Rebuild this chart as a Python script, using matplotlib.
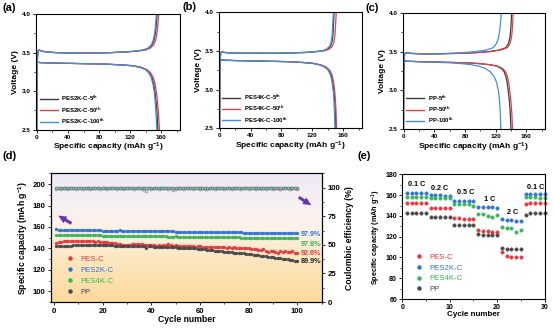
import numpy as np
import matplotlib
matplotlib.use('Agg')
import matplotlib.pyplot as plt
from matplotlib.colors import LinearSegmentedColormap
from matplotlib.ticker import MultipleLocator
from matplotlib.lines import Line2D

plt.rcParams['font.family'] = ['Liberation Sans', 'DejaVu Sans']
plt.rcParams['font.weight'] = 'bold'
plt.rcParams['axes.labelweight'] = 'bold'
plt.rcParams['mathtext.fontset'] = 'custom'
plt.rcParams['mathtext.rm'] = 'Liberation Sans:bold'
plt.rcParams['mathtext.default'] = 'rm'
plt.rcParams['axes.linewidth'] = 0.8

# ---- charge / discharge profiles (capacity in mAh/g, voltage in V) ----
# (a) PES2K-C
chg_v_a = [2.50, 3.10, 3.42, 3.52, 3.535, 3.52, 3.51, 3.50, 3.495, 3.495,
           3.50, 3.51, 3.52, 3.535, 3.56, 3.60, 3.66, 3.75, 3.86, 4.00]
chg_q_a5 = [0, 0.3, 0.8, 1.5, 3, 6, 12, 25, 45, 70, 95, 115, 128, 138, 144, 148, 150.5, 152.3, 153.5, 154.5]
chg_q_a50 = [0, 0.3, 0.8, 1.5, 3, 6, 12, 25, 45, 70, 95, 116, 130, 140, 146, 150, 152.5, 154.3, 155.5, 156.5]
chg_q_a100 = [0, 0.3, 0.8, 1.5, 3, 6, 12, 25, 45, 70, 95, 114, 127, 137, 143, 147, 149.5, 151.3, 152.5, 153.5]
dis_v_a = [3.45, 3.39, 3.375, 3.37, 3.365, 3.36, 3.355, 3.35, 3.34, 3.33,
           3.31, 3.28, 3.24, 3.18, 3.10, 2.98, 2.85, 2.70, 2.50]
dis_q_a5 = [0, 0.3, 1, 5, 20, 45, 70, 90, 110, 123, 133, 140, 144.5, 147.8, 150, 152, 153.3, 154.5, 155.5]
dis_q_a50 = [0, 0.3, 1, 5, 20, 45, 70, 90, 110, 124, 134, 141.5, 146, 149.5, 151.8, 153.8, 155.2, 156.4, 157.5]
dis_q_a100 = [0, 0.3, 1, 5, 20, 45, 70, 90, 110, 122, 132, 139.5, 143.5, 146.8, 149, 151, 152.2, 153.2, 154]

# (b) PES4K-C
chg_v_b = [2.50, 3.10, 3.40, 3.48, 3.49, 3.48, 3.475, 3.47, 3.47, 3.47,
           3.475, 3.48, 3.49, 3.50, 3.52, 3.56, 3.62, 3.72, 3.85, 4.00]
chg_q_b5 = [0, 0.3, 0.8, 1.5, 3, 6, 12, 25, 45, 70, 95, 112, 124, 133, 139, 143.5, 145.5, 146.8, 147.5, 148.2]
chg_q_b50 = [0, 0.3, 0.8, 1.5, 3, 6, 12, 25, 45, 70, 95, 112, 125, 135, 141.5, 146, 148, 149.4, 150.2, 151]
chg_q_b100 = [0, 0.3, 0.8, 1.5, 3, 6, 12, 25, 45, 70, 95, 111, 123, 132, 138, 142.5, 144.5, 145.8, 146.5, 147.2]
dis_v_b = [3.45, 3.39, 3.385, 3.38, 3.375, 3.37, 3.365, 3.36, 3.35, 3.34,
           3.32, 3.29, 3.25, 3.19, 3.10, 2.98, 2.85, 2.70, 2.50]
dis_q_b5 = [0, 0.3, 1, 5, 20, 45, 70, 90, 108, 120, 130, 137, 141.5, 144.5, 146.5, 148, 149, 149.8, 150.5]
dis_q_b50 = [0, 0.3, 1, 5, 20, 45, 70, 90, 108, 121, 131, 138, 142.5, 145.5, 147.5, 149, 150, 150.8, 151.5]
dis_q_b100 = [0, 0.3, 1, 5, 20, 45, 70, 90, 107, 119, 129, 136, 140.5, 143.5, 145.5, 147, 148, 148.7, 149.3]

# (c) PP
chg_v_c = [2.50, 3.10, 3.40, 3.475, 3.485, 3.48, 3.475, 3.47, 3.47, 3.475,
           3.48, 3.49, 3.50, 3.52, 3.55, 3.60, 3.67, 3.76, 3.87, 4.00]
chg_q_c5 = [0, 0.3, 0.8, 1.5, 3, 6, 12, 25, 45, 65, 85, 100, 112, 125, 133.5, 136.8, 138.6, 139.7, 140.4, 141.0]
chg_q_c50 = [0, 0.3, 0.8, 1.5, 3, 6, 12, 25, 45, 65, 85, 101, 114, 127, 135.5, 138.8, 140.6, 141.7, 142.4, 143.0]
chg_q_c100 = [0, 0.3, 0.8, 1.5, 3, 6, 12, 25, 40, 55, 68, 82, 95, 108, 117, 121, 123.8, 125.3, 126.5, 127.5]
dis_v_c = [3.45, 3.385, 3.38, 3.375, 3.37, 3.365, 3.36, 3.355, 3.345, 3.33,
           3.31, 3.28, 3.24, 3.18, 3.10, 2.98, 2.85, 2.70, 2.50]
dis_q_c5 = [0, 0.3, 1, 5, 20, 40, 60, 80, 98, 112, 122, 128, 131.2, 133.5, 135.2, 136.8, 138.2, 139.3, 140.2]
dis_q_c50 = [0, 0.3, 1, 5, 20, 40, 60, 80, 99, 113, 123.5, 129.5, 133, 135.4, 137.2, 138.8, 140.2, 141.3, 142.2]
dis_q_c100 = [0, 0.3, 1, 5, 15, 30, 45, 60, 75, 88, 99, 107, 113, 118, 121.5, 124, 125.3, 126.2, 127]

# ---- (d) long cycling at 1 C ----
cycles = np.arange(1, 101)
cap_pesc = [145.4, 145.9, 146.3, 146.6, 146.9, 147.1, 147.3, 147.2, 147.0, 147.2,
            146.9, 146.8, 146.6, 146.7, 146.5, 146.6, 146.4, 146.5, 146.3, 146.4,
            146.1, 145.8, 145.5, 145.1, 144.8, 144.3, 144.0, 143.5, 143.1, 142.8,
            143.6, 144.1, 144.3, 144.0, 144.2, 143.7, 143.4, 143.1, 142.9, 143.3,
            143.0, 142.7, 142.9, 142.5, 142.8, 143.5, 144.0, 143.6, 142.5, 142.9,
            142.4, 142.6, 142.2, 142.0, 142.3, 141.9, 142.1, 141.6, 141.9, 141.8,
            141.6, 141.3, 141.7, 141.4, 141.1, 141.5, 141.0, 141.3, 140.9, 141.2,
            140.8, 141.1, 140.6, 140.9, 140.4, 140.7, 140.2, 140.5, 140.0, 140.2,
            139.8, 139.4, 139.7, 138.9, 138.6, 139.3, 137.9, 136.4, 137.6, 137.8,
            136.9, 135.7, 137.3, 136.8, 137.5, 136.2, 136.9, 137.4, 136.0, 135.6]
cap_pes2k = [157.9, 157.6, 157.5, 157.4, 157.3, 157.3, 157.2, 157.2, 157.1, 157.1,
             157.0, 157.0, 157.0, 156.9, 156.9, 156.9, 156.8, 156.8, 156.8, 156.7,
             156.7, 156.7, 156.6, 156.6, 156.6, 156.5, 156.8, 156.5, 156.4, 156.4,
             156.4, 156.3, 156.3, 156.3, 156.2, 156.2, 156.2, 156.1, 156.1, 156.1,
             156.0, 156.0, 156.0, 155.9, 155.9, 155.9, 155.8, 155.8, 155.8, 155.7,
             155.7, 155.7, 155.6, 155.6, 155.6, 155.5, 155.5, 155.5, 155.4, 155.4,
             155.4, 155.3, 155.3, 155.3, 155.2, 155.2, 155.2, 155.1, 155.1, 155.1,
             155.0, 155.0, 155.0, 154.9, 154.9, 154.9, 154.9, 154.8, 154.8, 154.8,
             154.8, 154.7, 154.7, 154.7, 154.7, 154.6, 154.6, 154.6, 154.6, 154.6,
             154.5, 154.5, 154.5, 154.5, 154.5, 154.5, 154.4, 154.4, 154.4, 154.4]
cap_pes4k = [152.8, 152.7, 152.6, 152.6, 152.5, 152.5, 152.5, 152.4, 152.4, 152.4,
             152.3, 152.3, 152.3, 152.2, 152.2, 152.2, 152.1, 152.1, 152.1, 152.0,
             152.0, 152.0, 151.9, 151.9, 151.9, 151.8, 151.8, 151.8, 151.7, 151.7,
             151.7, 151.6, 151.6, 151.6, 151.5, 151.5, 151.5, 151.4, 151.8, 151.4,
             151.3, 151.3, 151.3, 151.2, 151.2, 151.2, 151.1, 151.1, 150.3, 151.4,
             151.0, 151.0, 150.9, 150.9, 150.9, 150.8, 150.8, 150.8, 150.7, 150.7,
             150.7, 150.6, 150.6, 150.6, 150.5, 150.5, 150.5, 150.4, 150.4, 150.4,
             150.3, 150.3, 150.3, 150.2, 150.2, 150.2, 150.1, 150.1, 150.1, 150.0,
             150.0, 150.0, 149.9, 149.9, 149.9, 149.9, 149.8, 149.8, 149.8, 149.8,
             149.7, 149.7, 149.7, 149.7, 149.6, 149.6, 149.6, 149.6, 149.5, 149.5]
cap_pp = [142.4, 142.5, 142.5, 142.6, 142.6, 142.7, 142.7, 142.8, 142.8, 142.8,
          142.9, 142.9, 142.9, 143.0, 143.0, 143.0, 143.0, 143.0, 142.9, 142.9,
          142.9, 142.8, 142.8, 142.8, 142.7, 142.7, 142.6, 142.6, 142.5, 142.5,
          142.4, 142.4, 142.3, 142.3, 142.2, 142.1, 142.0, 140.6, 141.9, 141.8,
          141.7, 141.6, 141.5, 141.5, 141.4, 141.3, 141.2, 141.1, 141.0, 140.9,
          140.8, 140.7, 140.6, 140.5, 140.4, 140.3, 140.2, 140.0, 139.8, 139.6,
          139.3, 139.0, 138.8, 138.5, 138.3, 138.0, 137.8, 137.5, 137.3, 137.0,
          136.8, 136.5, 136.3, 136.1, 135.9, 135.7, 135.5, 135.3, 135.0, 134.8,
          134.5, 134.2, 133.9, 133.6, 133.3, 133.0, 132.7, 132.4, 132.1, 131.8,
          131.5, 131.2, 130.8, 130.5, 130.1, 129.8, 129.4, 129.1, 128.7, 128.4]

ce_pesc = [99.4, 99.5, 99.5, 99.4, 99.5, 99.6, 99.5, 99.4, 99.5, 99.5,
           99.5, 99.4, 99.5, 99.5, 99.6, 99.5, 99.5, 99.4, 99.5, 99.5,
           99.5, 99.5, 99.4, 99.5, 99.5, 99.6, 99.5, 99.5, 99.4, 99.5,
           99.5, 99.5, 99.5, 99.4, 99.5, 99.5, 99.5, 99.4, 99.5, 99.5,
           99.5, 99.4, 99.5, 99.5, 99.5, 99.5, 99.4, 99.5, 99.5, 99.5,
           99.5, 99.5, 99.4, 99.5, 99.5, 99.5, 99.4, 99.5, 99.5, 99.5,
           99.4, 99.5, 99.5, 99.5, 99.5, 99.4, 99.5, 99.5, 99.5, 99.4,
           99.5, 99.5, 99.5, 99.4, 99.5, 99.5, 99.5, 99.4, 99.5, 99.5,
           99.5, 99.4, 99.5, 99.5, 99.3, 99.5, 99.4, 99.5, 99.5, 99.4,
           99.5, 99.5, 98.6, 99.5, 99.4, 99.5, 99.5, 99.4, 99.5, 99.5]
ce_pes2k = [99.6, 99.6, 99.7, 99.6, 99.6, 99.6, 99.7, 99.6, 99.6, 99.6,
            99.6, 99.7, 99.6, 99.6, 99.6, 99.6, 99.7, 99.6, 99.6, 99.6,
            99.6, 99.6, 99.7, 99.6, 99.6, 99.6, 99.6, 99.7, 99.6, 99.6,
            99.6, 99.7, 99.6, 99.6, 99.6, 99.6, 99.6, 99.7, 99.6, 99.6,
            99.6, 99.6, 99.7, 99.6, 99.6, 99.6, 99.6, 99.6, 98.0, 99.6,
            99.6, 99.7, 99.6, 99.6, 99.6, 99.6, 99.7, 99.6, 99.6, 99.6,
            99.6, 99.6, 99.7, 99.6, 99.6, 99.6, 99.6, 99.7, 99.6, 99.6,
            99.6, 99.7, 99.6, 99.6, 99.6, 99.6, 99.6, 99.7, 99.6, 99.6,
            99.6, 99.6, 99.7, 99.6, 99.6, 99.6, 99.6, 99.6, 99.7, 99.6,
            99.6, 99.6, 99.6, 99.7, 99.6, 99.6, 99.6, 99.6, 99.7, 99.6]
ce_pes4k = [99.7, 99.7, 99.7, 99.8, 99.7, 99.7, 99.7, 99.7, 99.8, 99.7,
            99.7, 99.7, 99.8, 99.7, 99.7, 99.7, 99.7, 99.7, 99.8, 99.7,
            99.7, 99.7, 99.7, 99.8, 99.7, 99.7, 99.7, 99.7, 99.7, 99.8,
            99.7, 99.7, 99.7, 99.7, 99.8, 99.7, 98.2, 99.7, 99.7, 99.7,
            99.8, 99.7, 99.7, 99.7, 99.7, 99.7, 99.8, 99.7, 98.3, 99.7,
            99.7, 99.7, 99.8, 99.7, 99.7, 99.7, 99.7, 99.7, 99.8, 99.7,
            99.7, 99.7, 99.7, 99.8, 99.7, 99.7, 99.7, 99.7, 99.7, 99.8,
            99.7, 99.7, 99.7, 99.7, 99.8, 99.7, 99.7, 99.7, 99.7, 99.7,
            99.8, 99.7, 99.7, 99.7, 99.7, 99.7, 99.8, 99.7, 99.7, 99.7,
            99.7, 99.8, 99.7, 99.7, 99.7, 99.7, 99.7, 99.8, 99.7, 99.7]
ce_pp = [99.3, 99.4, 99.3, 99.4, 99.4, 99.3, 99.4, 99.4, 99.3, 99.4,
         99.4, 99.3, 99.4, 99.4, 99.3, 99.4, 99.4, 99.4, 99.3, 99.4,
         99.4, 99.3, 99.4, 99.4, 99.4, 99.3, 99.4, 99.4, 99.3, 99.4,
         99.4, 99.4, 99.3, 99.4, 99.4, 99.3, 99.4, 97.5, 99.4, 99.3,
         99.4, 99.4, 99.3, 99.4, 99.4, 99.4, 99.3, 99.4, 99.4, 99.3,
         99.4, 99.4, 99.3, 99.4, 99.4, 99.4, 99.3, 99.4, 99.4, 99.3,
         99.4, 98.9, 99.3, 99.4, 99.4, 99.3, 99.4, 99.4, 99.4, 99.3,
         99.4, 99.4, 99.3, 99.4, 99.4, 99.4, 99.3, 99.4, 99.4, 99.3,
         99.4, 99.4, 99.3, 99.4, 99.4, 99.4, 99.3, 99.4, 99.4, 99.3,
         99.4, 99.4, 99.3, 99.4, 99.4, 99.4, 99.3, 99.4, 99.4, 99.3]

retention_labels = ['97.9%', '97.8%', '92.6%', '89.9%']
retention_y = [152.6, 144.0, 135.6, 127.8]

# ---- (e) rate performance ----
rate_cycles = np.arange(1, 31)
rate_pesc = [152.1, 152.5, 152.7, 152.8, 152.9, 147.9, 147.6, 147.4, 147.3, 147.2,
             137.9, 137.6, 137.5, 137.4, 137.5, 126.8, 125.6, 125.2, 124.8, 124.3,
             104.9, 101.6, 100.9, 100.7, 100.6, 151.8, 152.3, 152.5, 152.6, 152.7]
rate_pes2k = [162.3, 162.4, 162.2, 162.3, 162.2, 159.9, 159.7, 159.7, 159.6, 159.5,
              154.8, 154.6, 154.6, 154.5, 154.6, 148.9, 148.6, 148.4, 148.3, 147.8,
              137.0, 135.9, 135.7, 135.6, 135.5, 161.3, 161.4, 161.3, 161.2, 161.2]
rate_pes4k = [158.4, 158.6, 158.7, 158.6, 158.6, 157.1, 157.0, 157.0, 156.9, 156.9,
              151.2, 151.1, 151.2, 151.3, 149.8, 141.5, 141.6, 139.6, 139.4, 140.8,
              129.6, 128.8, 128.7, 124.2, 126.7, 158.2, 157.8, 157.8, 157.7, 157.7]
rate_pp = [142.6, 142.7, 142.6, 142.6, 142.6, 139.4, 139.3, 139.2, 139.2, 139.1,
           131.6, 131.3, 131.2, 131.1, 131.0, 122.8, 122.0, 121.5, 121.3, 121.2,
           109.5, 107.9, 108.2, 108.0, 107.9, 140.6, 142.4, 142.5, 142.5, 142.4]
rate_names = ['0.1 C', '0.2 C', '0.5 C', '1 C', '2 C', '0.1 C']
rate_x = [3.0, 7.8, 13.4, 18.4, 23.2, 28.2]
rate_y = [170.2, 166.6, 162.4, 155.4, 143.2, 167.4]

names = ['PES-C', 'PES2K-C', 'PES4K-C', 'PP']
colors = ['#e8383d', '#2f72d8', '#3cb45a', '#4a4a4a']
curve_colors = ['#3a3a3a', '#d9454c', '#3f8fdc']

fig = plt.figure(figsize=(5.54, 3.29), dpi=100)


def style_voltage_axis(ax):
    ax.set_xlim(-1, 184)
    ax.set_ylim(2.5, 4.0)
    ax.xaxis.set_major_locator(MultipleLocator(40))
    ax.xaxis.set_minor_locator(MultipleLocator(20))
    ax.yaxis.set_major_locator(MultipleLocator(0.5))
    ax.yaxis.set_minor_locator(MultipleLocator(0.25))
    ax.tick_params(which='both', direction='out', labelsize=4.6, pad=1.5)
    ax.tick_params(which='major', length=2.2, width=0.6)
    ax.tick_params(which='minor', length=1.2, width=0.5)
    ax.set_xlabel('Specific capacity (mAh g$^{-1}$)', fontsize=6, labelpad=1)
    ax.set_ylabel('Voltage (V)', fontsize=6, labelpad=2)


def draw_profiles(ax, prefix, chg_v, chg_qs, dis_v, dis_qs):
    for i, (cq, dq) in enumerate(zip(chg_qs, dis_qs)):
        ax.plot(cq, chg_v, color=curve_colors[i], lw=0.9)
        ax.plot(dq, dis_v, color=curve_colors[i], lw=0.9)
    handles = [Line2D([], [], color=c, lw=1.0) for c in curve_colors]
    labels = [prefix + '-5$^{th}$', prefix + '-50$^{th}$', prefix + '-100$^{th}$']
    ax.legend(handles, labels, loc='lower left', frameon=False, fontsize=4.3,
              handlelength=3.0, handletextpad=0.6, labelspacing=0.35,
              borderaxespad=0.2, bbox_to_anchor=(0.0, 0.0))
    style_voltage_axis(ax)


ax_a = fig.add_axes([0.065, 0.606, 0.260, 0.351])
draw_profiles(ax_a, 'PES2K-C', chg_v_a, [chg_q_a5, chg_q_a50, chg_q_a100],
              dis_v_a, [dis_q_a5, dis_q_a50, dis_q_a100])
ax_b = fig.add_axes([0.395, 0.610, 0.258, 0.353])
draw_profiles(ax_b, 'PES4K-C', chg_v_b, [chg_q_b5, chg_q_b50, chg_q_b100],
              dis_v_b, [dis_q_b5, dis_q_b50, dis_q_b100])
ax_c = fig.add_axes([0.727, 0.608, 0.256, 0.353])
draw_profiles(ax_c, 'PP', chg_v_c, [chg_q_c5, chg_q_c50, chg_q_c100],
              dis_v_c, [dis_q_c5, dis_q_c50, dis_q_c100])

# (d) cycling with background gradient
ax_d = fig.add_axes([0.092, 0.082, 0.490, 0.391])
bg = LinearSegmentedColormap.from_list(
    'bg', [(0.0, '#fcd99b'), (0.3, '#fde6bd'), (0.55, '#fcf1e4'), (0.75, '#f7f1f4'), (1.0, '#efe8f6')])
grad = np.linspace(0, 1, 256).reshape(-1, 1)
ax_d.imshow(grad, cmap=bg, origin='lower', aspect='auto', extent=[0, 1, 0, 1],
            transform=ax_d.transAxes, zorder=0)
ax_d.set_xlim(-1.2, 110.3)
ax_d.set_ylim(90, 210)

ax_ce = ax_d.twinx()
ax_ce.set_ylim(0, 112.6)
for ce, c in zip([ce_pp, ce_pesc, ce_pes2k, ce_pes4k], [colors[3], colors[0], colors[1], colors[2]]):
    ax_ce.plot(cycles, ce, 'o', ms=2.0, mfc='none', mec=c, mew=0.5, alpha=0.55)

for cap, c in zip([cap_pesc, cap_pes2k, cap_pes4k, cap_pp], colors):
    ax_d.plot(cycles, cap, 'o', ms=2.1, color=c, mec=c, mew=0.3, zorder=3)

for txt, y, c in zip(retention_labels, retention_y, [colors[1], colors[2], colors[0], '#222222']):
    ax_d.text(101.2, y, txt, color=c, fontsize=5.2, va='center', ha='left', zorder=4)

arrow_kw = dict(arrowstyle='simple,head_width=0.55,head_length=0.6,tail_width=0.22',
                color='#6a35a8', lw=0)
ax_d.annotate('', xy=(0.8, 171.9), xytext=(8.2, 162.0), arrowprops=arrow_kw, zorder=4)
ax_d.annotate('', xy=(106.7, 178.9), xytext=(99.6, 189.2), arrowprops=arrow_kw, zorder=4)

ax_d.xaxis.set_major_locator(MultipleLocator(20))
ax_d.xaxis.set_minor_locator(MultipleLocator(10))
ax_d.yaxis.set_major_locator(MultipleLocator(20))
ax_d.yaxis.set_minor_locator(MultipleLocator(10))
ax_ce.yaxis.set_major_locator(MultipleLocator(25))
ax_ce.yaxis.set_minor_locator(MultipleLocator(12.5))
for ax in (ax_d, ax_ce):
    ax.tick_params(which='both', direction='out', labelsize=5.6, pad=1.5)
    ax.tick_params(which='major', length=2.5, width=0.6)
    ax.tick_params(which='minor', length=1.4, width=0.5)
ax_d.set_xlabel('Cycle number', fontsize=6.2, labelpad=0)
ax_d.set_ylabel('Specific capacity (mAh g$^{-1}$)', fontsize=6.2, labelpad=2)
ax_ce.set_ylabel('Coulombic efficiency (%)', fontsize=6.2, labelpad=3)

leg_handles = [Line2D([], [], ls='none', marker='o', ms=2.2, color=c) for c in colors]
leg = ax_d.legend(leg_handles, names, loc='lower left', frameon=False, fontsize=5.6,
                  handletextpad=0.3, labelspacing=0.45, borderaxespad=0.4,
                  bbox_to_anchor=(0.02, 0.0))
for t, c in zip(leg.get_texts(), colors):
    t.set_color(c)
    t.set_fontweight('normal')
leg.set_zorder(5)

# (e) rate capability
ax_e = fig.add_axes([0.726, 0.091, 0.257, 0.379])
for cap, c in zip([rate_pesc, rate_pes2k, rate_pes4k, rate_pp], colors):
    ax_e.plot(rate_cycles, cap, 'o', ms=2.5, color=c, mec=c, mew=0.3, clip_on=False)
for txt, x, y in zip(rate_names, rate_x, rate_y):
    ax_e.text(x, y, txt, fontsize=5.2, ha='center', va='center')
ax_e.set_xlim(0, 30)
ax_e.set_ylim(60, 180)
ax_e.xaxis.set_major_locator(MultipleLocator(10))
ax_e.xaxis.set_minor_locator(MultipleLocator(5))
ax_e.yaxis.set_major_locator(MultipleLocator(20))
ax_e.yaxis.set_minor_locator(MultipleLocator(10))
ax_e.tick_params(which='both', direction='out', labelsize=5.0, pad=1.5)
ax_e.tick_params(which='major', length=2.2, width=0.6)
ax_e.tick_params(which='minor', length=1.2, width=0.5)
ax_e.set_xlabel('Cycle number', fontsize=5.8, labelpad=0)
ax_e.set_ylabel('Specific capacity (mAh g$^{-1}$)', fontsize=5.2, labelpad=1.5)
leg_e = ax_e.legend(leg_handles, names, loc='lower left', frameon=False, fontsize=5.6,
                    handletextpad=0.3, labelspacing=0.4, borderaxespad=0.4,
                    bbox_to_anchor=(0.02, 0.0))
for t, c in zip(leg_e.get_texts(), colors):
    t.set_color(c)
    t.set_fontweight('normal')

for lab, x, y in [('(a)', 0.005, 0.975), ('(b)', 0.33, 0.978), ('(c)', 0.66, 0.975),
                  ('(d)', 0.005, 0.525), ('(e)', 0.645, 0.525)]:
    fig.text(x, y, lab, fontsize=8, fontweight='bold', va='center', ha='left')

fig.savefig('out.png', dpi=100)
